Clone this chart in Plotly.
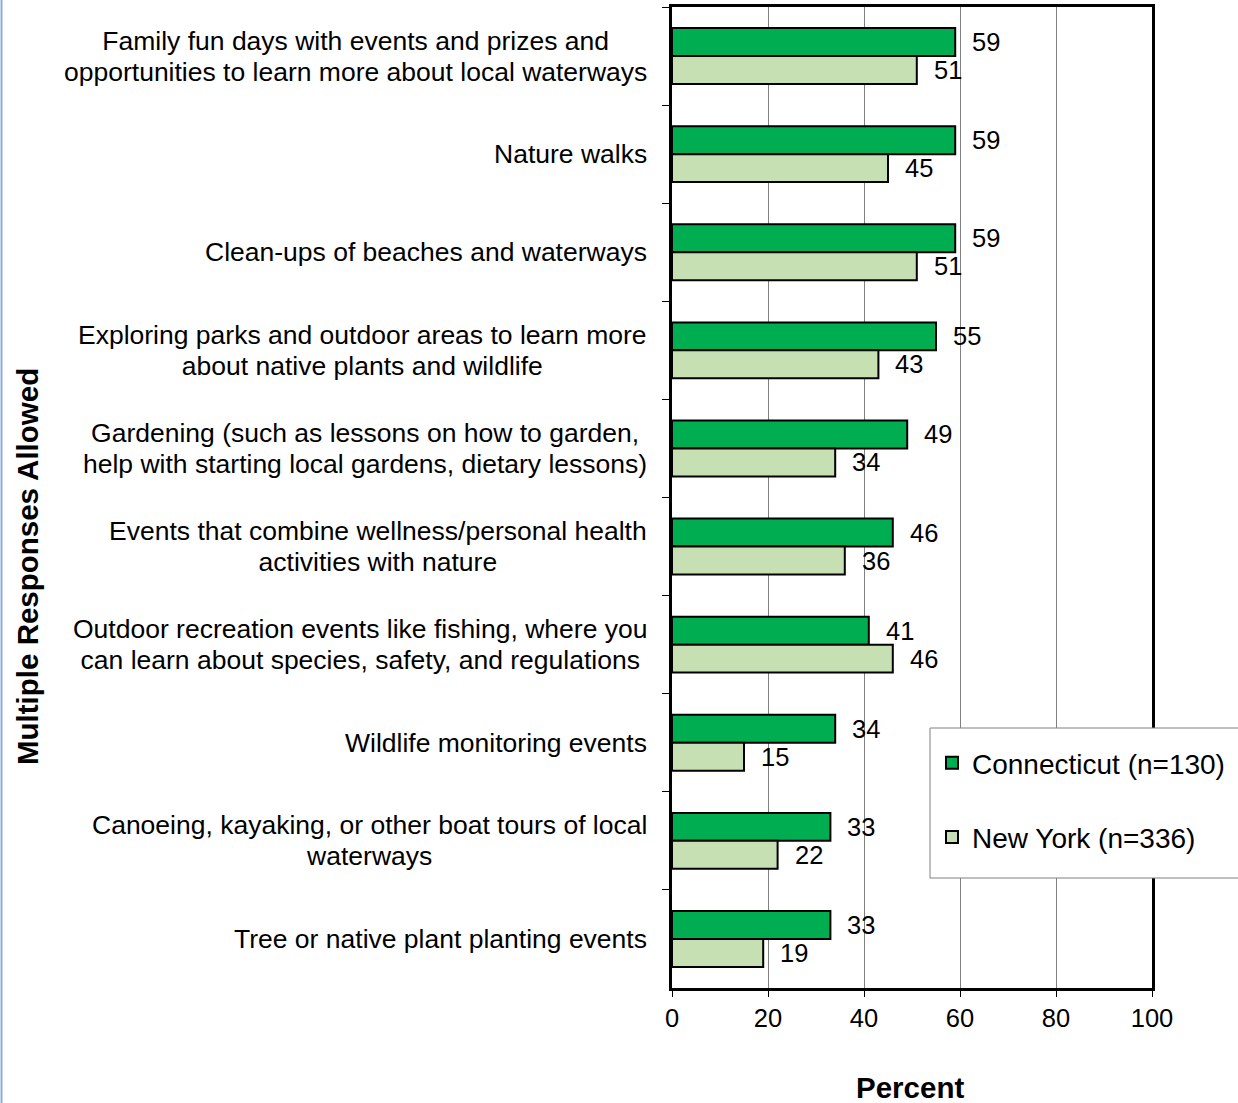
import plotly.graph_objects as go

categories = [
    "Family fun days with events and prizes and<br>opportunities to learn more about local waterways",
    "Nature walks",
    "Clean-ups of beaches and waterways",
    "Exploring parks and outdoor areas to learn more<br>about native plants and wildlife",
    "Gardening (such as lessons on how to garden,<br>help with starting local gardens, dietary lessons)",
    "Events that combine wellness/personal health<br>activities with nature",
    "Outdoor recreation events like fishing, where you<br>can learn about species, safety, and regulations",
    "Wildlife monitoring events",
    "Canoeing, kayaking, or other boat tours of local<br>waterways",
    "Tree or native plant planting events",
]
connecticut = [59, 59, 59, 55, 49, 46, 41, 34, 33, 33]
new_york = [51, 45, 51, 43, 34, 36, 46, 15, 22, 19]
series_names = ["Connecticut (n=130)", "New York (n=336)"]
x_ticks = [0, 20, 40, 60, 80, 100]

FONT = "Arial, Liberation Sans, sans-serif"
CT_COLOR = "#00AD50"
NY_COLOR = "#C6E0B4"

W, H = 1238, 1103
L, R, T, B = 672, 1152, 7, 988
pw, ph = R - L, B - T

def px_x(px):
    return (px - L) / pw

def px_y(py):
    return (B - py) / ph

fig = go.Figure()
fig.add_trace(go.Bar(
    y=categories, x=connecticut, orientation="h", name=series_names[0],
    marker=dict(color=CT_COLOR, line=dict(color="black", width=2)),
    legendgroup="ct",
))
fig.add_trace(go.Bar(
    y=categories, x=new_york, orientation="h", name=series_names[1],
    marker=dict(color=NY_COLOR, line=dict(color="black", width=2)),
    legendgroup="ny",
))

annotations = []
LABEL_SIZE = 26.5
LINE_H = 31                      # desired line pitch (reference)
BASE_SIZE = LINE_H / 1.3          # plotly line pitch = 1.3 * base font size
# category labels: centered multi-line; glyphs drawn at LABEL_SIZE while the
# base size sets the tighter line pitch of the reference.
for c in categories:
    lines = c.split("<br>")
    text = "<br>".join(
        "<span style='font-size:{}px'>{}</span>".format(LABEL_SIZE, l) for l in lines
    )
    annotations.append(dict(
        x=0, xref="paper", y=c, yref="y", text=text,
        showarrow=False, xanchor="right", yanchor="middle", align="center",
        xshift=-23,
        font=dict(family=FONT, size=BASE_SIZE, color="black"),
    ))
# value labels
for c, v in zip(categories, connecticut):
    annotations.append(dict(
        x=v, y=c, xref="x", yref="y", text=str(v), showarrow=False,
        xanchor="left", yanchor="middle", xshift=15, yshift=14,
        font=dict(family=FONT, size=25.5, color="black"),
    ))
for c, v in zip(categories, new_york):
    annotations.append(dict(
        x=v, y=c, xref="x", yref="y", text=str(v), showarrow=False,
        xanchor="left", yanchor="middle", xshift=15, yshift=-14,
        font=dict(family=FONT, size=25.5, color="black"),
    ))
# axis titles
annotations.append(dict(
    x=px_x(27), y=px_y(567), xref="paper", yref="paper",
    text="<b>Multiple Responses Allowed</b>", showarrow=False, textangle=-90,
    xanchor="center", yanchor="middle",
    font=dict(family=FONT, size=29.5, color="black"),
))
annotations.append(dict(
    x=px_x(910), y=px_y(1088), xref="paper", yref="paper",
    text="<b>Percent</b>", showarrow=False,
    xanchor="center", yanchor="middle",
    font=dict(family=FONT, size=29.5, color="black"),
))

shapes = [
    # legend box
    dict(type="rect", xref="paper", yref="paper",
         x0=px_x(930), x1=px_x(1250), y0=px_y(878), y1=px_y(728),
         fillcolor="white", line=dict(color="#808080", width=1), layer="above"),
    # left blue page edge
    dict(type="line", xref="paper", yref="paper",
         x0=px_x(1.5), x1=px_x(1.5), y0=px_y(1103), y1=px_y(0),
         line=dict(color="#8EA9DB", width=2)),
]

fig.update_layout(
    width=W, height=H,
    margin=dict(l=L, r=W - R, t=T, b=H - B, autoexpand=False),
    paper_bgcolor="white", plot_bgcolor="white",
    barmode="group", bargap=0.43, bargroupgap=0,
    font=dict(family=FONT, size=25, color="black"),
    showlegend=True,
    legend=dict(
        x=px_x(932), y=px_y(738), xanchor="left", yanchor="top",
        bgcolor="rgba(0,0,0,0)", borderwidth=0,
        font=dict(family=FONT, size=28, color="black"),
        tracegroupgap=35, traceorder="grouped",
    ),
    annotations=annotations,
    shapes=shapes,
    xaxis=dict(
        range=[0, 100], tickvals=x_ticks, ticktext=[str(t) for t in x_ticks],
        showgrid=True, gridcolor="#808080", gridwidth=1,
        showline=True, linecolor="black", linewidth=2.5, mirror=True,
        ticks="outside", ticklen=6, tickcolor="black", tickwidth=1,
        tickfont=dict(family=FONT, size=25.5, color="black"),
        zeroline=False, fixedrange=True,
    ),
    yaxis=dict(
        autorange="reversed", categoryorder="array", categoryarray=categories,
        showticklabels=False, tickson="boundaries",
        ticks="outside", ticklen=7, tickcolor="black", tickwidth=1,
        showline=True, linecolor="black", linewidth=2.5, mirror=True,
        showgrid=False, zeroline=False, fixedrange=True,
    ),
)

fig.write_html(
    "out.html",
    config={"displayModeBar": False},
    post_script="document.body.style.margin='0';document.body.style.padding='0';",
)
